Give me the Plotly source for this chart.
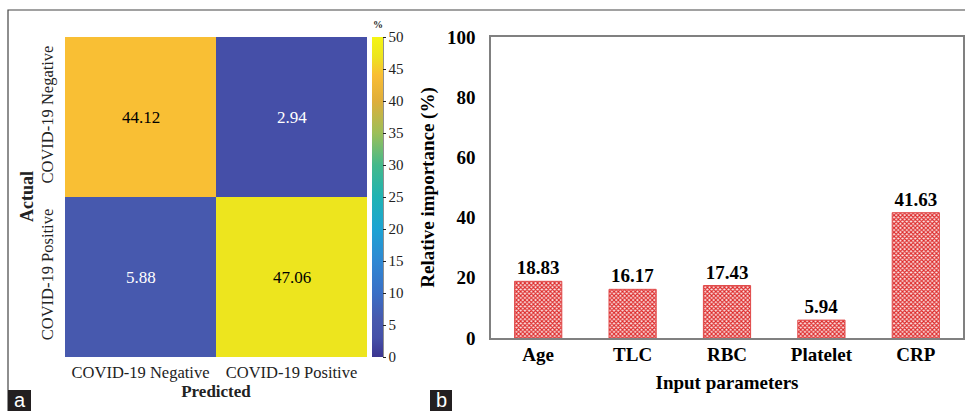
import plotly.graph_objects as go

# ---- data: confusion matrix (panel a) ----
cm_x_labels = ["COVID-19 Negative", "COVID-19 Positive"]
cm_y_labels = ["COVID-19 Negative", "COVID-19 Positive"]
cm_values = [[44.12, 2.94],
             [5.88, 47.06]]
cb_ticks = [0, 5, 10, 15, 20, 25, 30, 35, 40, 45, 50]

# ---- data: relative importance (panel b) ----
params = ["Age", "TLC", "RBC", "Platelet", "CRP"]
importance = [18.83, 16.17, 17.43, 5.94, 41.63]
y_ticks = [0, 20, 40, 60, 80, 100]

W, H = 965, 411
def px(x): return x / W
def py(y): return 1 - y / H

SERIF = "Liberation Serif"
SANS = "Liberation Sans"

parula = [
    [0.00, "#3b3590"],
    [0.06, "#4550a8"],
    [0.12, "#4759ae"],
    [0.20, "#3a6fc6"],
    [0.30, "#2f88d3"],
    [0.40, "#1da3d3"],
    [0.50, "#1fb3b3"],
    [0.60, "#44b98b"],
    [0.70, "#9cbf58"],
    [0.80, "#dfae3b"],
    [0.88, "#f9bd35"],
    [0.94, "#ede51e"],
    [1.00, "#f5f514"],
]

fig = go.Figure()

fig.add_trace(go.Heatmap(
    z=cm_values, x=cm_x_labels, y=cm_y_labels,
    zmin=0, zmax=50, colorscale=parula,
    xaxis="x", yaxis="y",
    colorbar=dict(
        x=px(372), xanchor="left", xpad=0,
        y=py(197), yanchor="middle", ypad=0,
        len=320, lenmode="pixels", thickness=11, thicknessmode="pixels",
        tickvals=cb_ticks, ticks="outside", ticklen=3, tickcolor="#222",
        tickfont=dict(family=SERIF, size=15, color="#222"),
        outlinewidth=0,
    ),
    hoverinfo="skip",
))

# cell annotations
text_colors = [["black", "white"], ["white", "black"]]
annotations = []
for i, row in enumerate(cm_values):
    for j, v in enumerate(row):
        annotations.append(dict(
            x=cm_x_labels[j], y=cm_y_labels[i], xref="x", yref="y",
            text=f"{v:.2f}", showarrow=False,
            font=dict(family=SERIF, size=17, color=text_colors[i][j]),
        ))

fig.add_trace(go.Bar(
    x=params, y=importance, xaxis="x2", yaxis="y2",
    text=[f"{v:.2f}" for v in importance], textposition="outside",
    textfont=dict(family=SERIF, size=19, color="black", weight="bold"),
    cliponaxis=False,
    marker=dict(
        color="#dd2a2a",
        line=dict(color="#e04848", width=1),
        pattern=dict(shape="x", size=3, solidity=0.6,
                     fgcolor="#dd2a2a", bgcolor="#fbe4e4", fillmode="replace"),
    ),
    width=0.5,
    hoverinfo="skip",
))

fig.update_layout(
    width=W, height=H,
    margin=dict(l=0, r=0, t=0, b=0, autoexpand=False),
    paper_bgcolor="white", plot_bgcolor="white",
    showlegend=False,
    xaxis=dict(domain=[px(65), px(367)], anchor="y",
               tickfont=dict(family=SERIF, size=16.5, color="#222"),
               showline=False, showgrid=False, ticks="", ticklabelstandoff=3,
               title=dict(text="<b>Predicted</b>", standoff=4,
                          font=dict(family=SERIF, size=17, color="#222"))),
    yaxis=dict(domain=[py(357), py(37)], anchor="x", autorange="reversed",
               tickangle=-90,
               tickfont=dict(family=SERIF, size=16.5, color="#222"),
               showline=False, showgrid=False, ticks="", ticklabelstandoff=8),
    xaxis2=dict(domain=[px(491), px(963)], anchor="y2",
                tickfont=dict(family=SERIF, size=19, color="black", weight="bold"),
                showline=True, linecolor="#808080", linewidth=1.5, mirror=True,
                showgrid=False, ticks="", ticklabelstandoff=-2,
                title=dict(text="<b>Input parameters</b>", standoff=12,
                           font=dict(family=SERIF, size=19, color="black"))),
    yaxis2=dict(domain=[py(338), py(37)], anchor="x2", range=[0, 100],
                tickvals=y_ticks,
                tickfont=dict(family=SERIF, size=19, color="black", weight="bold"),
                showline=True, linecolor="#808080", linewidth=1.5, mirror=True,
                showgrid=False, ticks="", zeroline=False, ticklabelstandoff=10,
                title=dict(text="<b>Relative importance (%)</b>", standoff=7,
                           font=dict(family=SERIF, size=19, color="black"))),
)

# "Actual" axis title placed directly
annotations.append(dict(x=px(27), y=py(197), xref="paper", yref="paper",
                        text="<b>Actual</b>", showarrow=False, textangle=-90,
                        xanchor="center", yanchor="middle",
                        font=dict(family=SERIF, size=18, color="#222")))
# colorbar "%" label
annotations.append(dict(x=px(378), y=py(24), xref="paper", yref="paper",
                        text="<b>%</b>", showarrow=False,
                        xanchor="center", yanchor="middle",
                        font=dict(family=SERIF, size=10, color="#222")))
# panel labels
for lbl, x0, x1 in [("a", 8, 31), ("b", 430, 452)]:
    annotations.append(dict(x=px((x0 + x1) / 2), y=py(400), xref="paper", yref="paper",
                            text=lbl, showarrow=False, xanchor="center", yanchor="middle",
                            font=dict(family=SANS, size=20, color="white")))
fig.update_layout(annotations=annotations)

shapes = [
    # outer figure frame (top and left edges visible; right/bottom fall off-canvas)
    dict(type="rect", xref="paper", yref="paper", x0=px(8), x1=px(985),
         y0=py(10), y1=py(430), line=dict(color="#444", width=1.2),
         fillcolor="rgba(0,0,0,0)", layer="above"),
    # colorbar axis line
    dict(type="line", xref="paper", yref="paper", x0=px(383), x1=px(383), y0=py(37), y1=py(357),
         line=dict(color="#222", width=1)),
    # panel label boxes
    dict(type="rect", xref="paper", yref="paper", x0=px(8), x1=px(31), y0=py(411), y1=py(390),
         fillcolor="#231f20", line=dict(width=0), layer="above"),
    dict(type="rect", xref="paper", yref="paper", x0=px(430), x1=px(452), y0=py(411), y1=py(390),
         fillcolor="#231f20", line=dict(width=0), layer="above"),
]
fig.update_layout(shapes=shapes)

fig.write_html(
    "out.html",
    config={"displayModeBar": False},
    post_script="document.body.style.margin='0';document.body.style.overflow='hidden';",
)
